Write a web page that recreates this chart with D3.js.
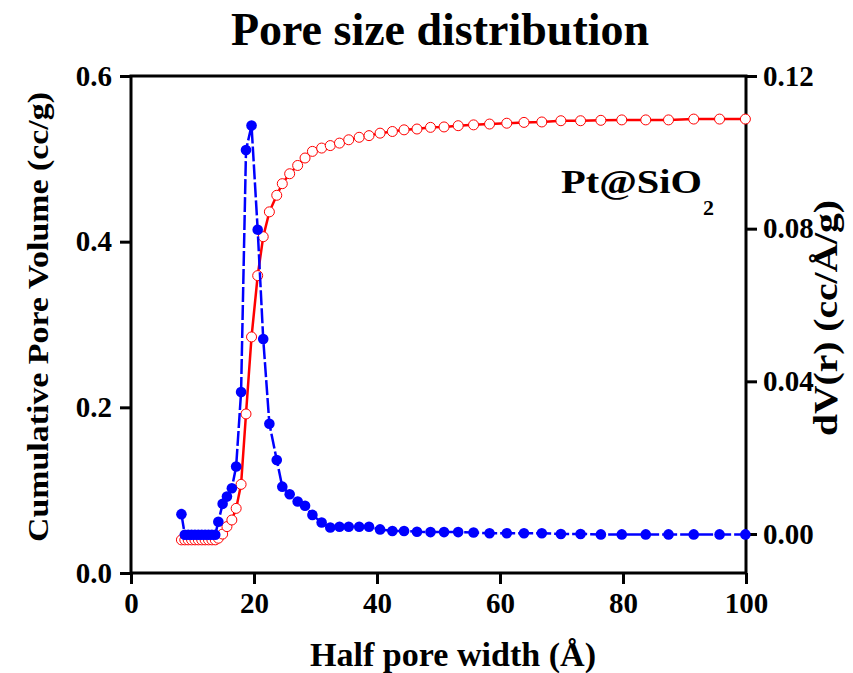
<!DOCTYPE html>
<html>
<head>
<meta charset="utf-8">
<script src="https://cdn.jsdelivr.net/npm/d3@7"></script>
<style>
  body { margin: 0; background: #fff; }
  svg text { font-family: "Liberation Serif", "Times New Roman", serif; font-weight: bold; }
</style>
</head>
<body>
<svg id="chart"></svg>
<script>
var width = 853;
var height = 673;

// half pore width (Å), shared by both series
var poreWidth = [8.2, 8.75, 9.3, 9.85, 10.4, 10.95, 11.5, 12.05, 12.6, 13.15, 13.7,
  14.2, 14.9, 15.6, 16.4, 17.1, 17.9, 18.7, 19.6, 20.6, 21.5, 22.5, 23.7, 24.6, 25.8, 27.1,
  28.3, 29.5, 31.0, 32.4, 33.9, 35.4, 37.1, 38.7, 40.5, 42.5, 44.4, 46.5, 48.7, 50.9,
  53.2, 55.7, 58.3, 61.1, 63.9, 66.8, 69.9, 73.1, 76.4, 79.8, 83.7, 87.4, 91.5, 95.7, 99.9];

// cumulative pore volume (cc/g), left axis
var cumVolume = [0.040, 0.040, 0.040, 0.040, 0.040, 0.040, 0.040, 0.040, 0.040, 0.040, 0.040,
  0.042, 0.047, 0.056, 0.064, 0.078, 0.107, 0.192, 0.285, 0.359, 0.406, 0.436, 0.456, 0.470, 0.482, 0.492,
  0.501, 0.509, 0.513, 0.516, 0.519, 0.523, 0.526, 0.528, 0.531, 0.533, 0.535, 0.536, 0.538, 0.5385,
  0.540, 0.541, 0.542, 0.543, 0.544, 0.5445, 0.546, 0.546, 0.5465, 0.547, 0.547, 0.547, 0.548, 0.548, 0.548];

// dV(r) (cc/Å/g), right axis
var dVr = [0.0052, -0.0002, -0.0002, -0.0002, -0.0002, -0.0002, -0.0002, -0.0002, -0.0002, -0.0002, -0.0002,
  0.0032, 0.0079, 0.0098, 0.0120, 0.0177, 0.0372, 0.1006, 0.1070, 0.0797, 0.0511, 0.0289, 0.0194, 0.0124, 0.0104, 0.0085,
  0.0074, 0.0050, 0.0030, 0.0017, 0.0019, 0.0019, 0.0019, 0.0019, 0.0012, 0.0008, 0.0008, 0.0006, 0.0005, 0.0005,
  0.0005, 0.0004, 0.0002, 0.0002, 0.0002, 0.0002, 0.0000, 0.0000, -0.0001, -0.0001, -0.0001, -0.0001, -0.0001, -0.0001, -0.0001];

var xTicks = [0, 20, 40, 60, 80, 100];
var leftTicks = [0, 0.2, 0.4, 0.6];
var rightTicks = [0, 0.04, 0.08, 0.12];

var plot = { left: 131, right: 746, top: 76, bottom: 573 };

var svg = d3.select('#chart').attr('width', width).attr('height', height);

var x = d3.scaleLinear().domain([0, 100]).range([plot.left, plot.right]);
var yLeft = d3.scaleLinear().domain([0, 0.6]).range([plot.bottom, plot.top]);
var yRight = d3.scaleLinear().domain([0, 0.12]).range([534, plot.top]);

var cumData = poreWidth.map(function (w, i) { return [w, cumVolume[i]]; });
var dvData = poreWidth.map(function (w, i) { return [w, dVr[i]]; });

// axes
function styleAxis(g) {
  g.select('.domain').remove();
  g.selectAll('.tick line').attr('stroke', '#000').attr('stroke-width', 3);
  g.selectAll('.tick text').attr('fill', '#000').style('font-size', '29px');
}

svg.append('g')
  .attr('transform', 'translate(0,' + plot.bottom + ')')
  .call(d3.axisBottom(x).tickValues(xTicks).tickFormat(d3.format('d')).tickSize(11).tickPadding(8))
  .call(styleAxis);

svg.append('g')
  .attr('transform', 'translate(' + plot.left + ',0)')
  .call(d3.axisLeft(yLeft).tickValues(leftTicks).tickFormat(d3.format('.1f')).tickSize(11).tickPadding(8))
  .call(styleAxis);

svg.append('g')
  .attr('transform', 'translate(' + plot.right + ',0)')
  .call(d3.axisRight(yRight).tickValues(rightTicks).tickFormat(d3.format('.2f')).tickSize(11).tickPadding(6))
  .call(styleAxis);

// frame
svg.append('path')
  .attr('d', 'M' + plot.left + ',' + plot.top + 'V' + plot.bottom + 'H' + plot.right + 'V' + plot.top + 'Z')
  .attr('fill', 'none')
  .attr('stroke', '#000')
  .attr('stroke-width', 3);

// cumulative volume: red line, open circles
svg.append('path')
  .datum(cumData)
  .attr('fill', 'none')
  .attr('stroke', '#ff0000')
  .attr('stroke-width', 2.5)
  .attr('d', d3.line().x(function (d) { return x(d[0]); }).y(function (d) { return yLeft(d[1]); }));

svg.append('g').selectAll('circle')
  .data(cumData)
  .enter().append('circle')
  .attr('cx', function (d) { return x(d[0]); })
  .attr('cy', function (d) { return yLeft(d[1]); })
  .attr('r', 5)
  .attr('fill', '#fff')
  .attr('stroke', '#ff0000')
  .attr('stroke-width', 1);

// dV(r): blue dashed line, filled circles
svg.append('path')
  .datum(dvData)
  .attr('fill', 'none')
  .attr('stroke', '#0000ff')
  .attr('stroke-width', 2.5)
  .attr('stroke-dasharray', '15,3')
  .attr('d', d3.line().x(function (d) { return x(d[0]); }).y(function (d) { return yRight(d[1]); }));

svg.append('g').selectAll('circle')
  .data(dvData)
  .enter().append('circle')
  .attr('cx', function (d) { return x(d[0]); })
  .attr('cy', function (d) { return yRight(d[1]); })
  .attr('r', 5.3)
  .attr('fill', '#0000ff');

// titles and labels
svg.append('text')
  .attr('x', 440).attr('y', 45)
  .attr('text-anchor', 'middle')
  .style('font-size', '46px')
  .text('Pore size distribution');

svg.append('text')
  .attr('x', 453).attr('y', 666)
  .attr('text-anchor', 'middle')
  .attr('textLength', 286).attr('lengthAdjust', 'spacingAndGlyphs')
  .style('font-size', '33px')
  .text('Half pore width (Å)');

svg.append('text')
  .attr('transform', 'translate(48,317) rotate(-90)')
  .attr('text-anchor', 'middle')
  .attr('textLength', 450).attr('lengthAdjust', 'spacingAndGlyphs')
  .style('font-size', '30px')
  .text('Cumulative Pore Volume (cc/g)');

svg.append('text')
  .attr('transform', 'translate(837,318) rotate(-90)')
  .attr('text-anchor', 'middle')
  .attr('textLength', 236).attr('lengthAdjust', 'spacingAndGlyphs')
  .style('font-size', '34px')
  .text('dV(r) (cc/Å/g)');

var tag = svg.append('text')
  .attr('x', 561).attr('y', 193)
  .style('font-size', '33px');
tag.append('tspan').attr('textLength', 141).attr('lengthAdjust', 'spacingAndGlyphs').text('Pt@SiO');
tag.append('tspan').attr('x', 703).attr('y', 215).style('font-size', '22px').text('2');
</script>
</body>
</html>
